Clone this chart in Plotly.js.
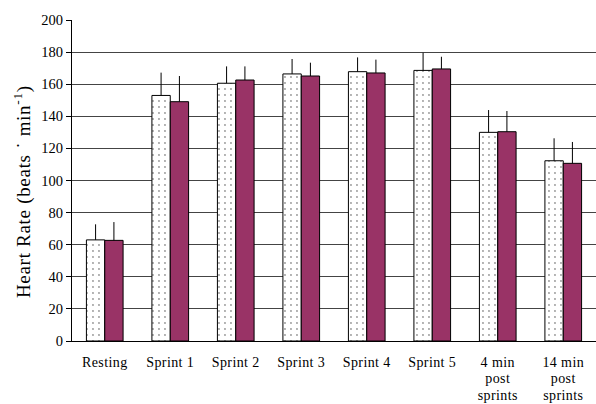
<!DOCTYPE html>
<html><head><meta charset="utf-8">
<script src="https://cdn.plot.ly/plotly-3.0.1.min.js"></script>
<style>html,body{margin:0;padding:0;background:#fff}#chart{width:596px;height:404px}
.xtick text{letter-spacing:0.4px}
.annotation-text{letter-spacing:0.7px}
</style>
</head><body><div id="chart"></div>
<script>
const categories = ["Resting","Sprint 1","Sprint 2","Sprint 3","Sprint 4","Sprint 5","4 min<br>post<br>sprints","14 min<br>post<br>sprints"];
const seriesA = [63, 153, 160.6, 166.4, 167.8, 168.6, 130, 112.3];
const seriesAErr = [9.7, 14.2, 10.5, 9.3, 8.9, 11, 13.9, 14];
const seriesB = [62.7, 149.1, 162.6, 165.1, 167, 169.5, 130.4, 110.7];
const seriesBErr = [11.4, 16, 8.5, 8.3, 8.3, 7.6, 12.9, 13.3];
const yTicks = [0,20,40,60,80,100,120,140,160,180,200];
const yTitle = 'Heart Rate (beats ˙ min<sup>-1</sup>)';
const serif = 'Liberation Serif, Times New Roman, serif';

const traces = [
  {type:'bar', x:categories, y:seriesA, name:'A',
   marker:{color:'#ffffff', line:{color:'#000', width:1},
     pattern:{shape:'.', fgcolor:'#999', bgcolor:'#ffffff', size:6, solidity:0.08}},
   error_y:{type:'data', symmetric:false, array:seriesAErr, arrayminus:seriesAErr.map(()=>0), color:'#000', thickness:1, width:0}},
  {type:'bar', x:categories, y:seriesB, name:'B',
   marker:{color:'#993366', line:{color:'#000', width:1}},
   error_y:{type:'data', symmetric:false, array:seriesBErr, arrayminus:seriesBErr.map(()=>0), color:'#000', thickness:1, width:0}}
];
const layout = {
  width:596, height:404,
  margin:{l:72, r:0, t:20, b:63},
  paper_bgcolor:'#fff', plot_bgcolor:'#fff',
  showlegend:false,
  barmode:'group', bargap:0.44, bargroupgap:0,
  font:{family:serif, color:'#000', size:14},
  xaxis:{type:'category', showgrid:false, showline:true, linecolor:'#000', linewidth:1,
    ticks:'', ticklabelstandoff:8, tickfont:{size:14, family:serif}, automargin:false},
  yaxis:{range:[0,200], tickvals:yTicks, showgrid:true, gridcolor:'#444', gridwidth:1,
    showline:true, linecolor:'#000', linewidth:1, ticks:'outside', ticklen:5, tickcolor:'#000',
    zeroline:false, tickfont:{size:14.5, family:serif}, automargin:false},
  annotations:[{text:yTitle, textangle:-90, xref:'paper', yref:'paper', x:-0.0954, y:0.464,
    xanchor:'center', yanchor:'middle', showarrow:false, font:{size:19, family:serif, color:'#000'}}]
};
Plotly.newPlot('chart', traces, layout, {staticPlot:true}).then(function(gd){
  gd.querySelectorAll('.xtick text tspan.line').forEach(function(t){
    const dy = t.getAttribute('dy');
    if (dy && dy.indexOf('em') > 0) {
      const v = parseFloat(dy);
      t.setAttribute('dy', (v * 0.9).toFixed(3) + 'em');
    }
  });
});
</script></body></html>
